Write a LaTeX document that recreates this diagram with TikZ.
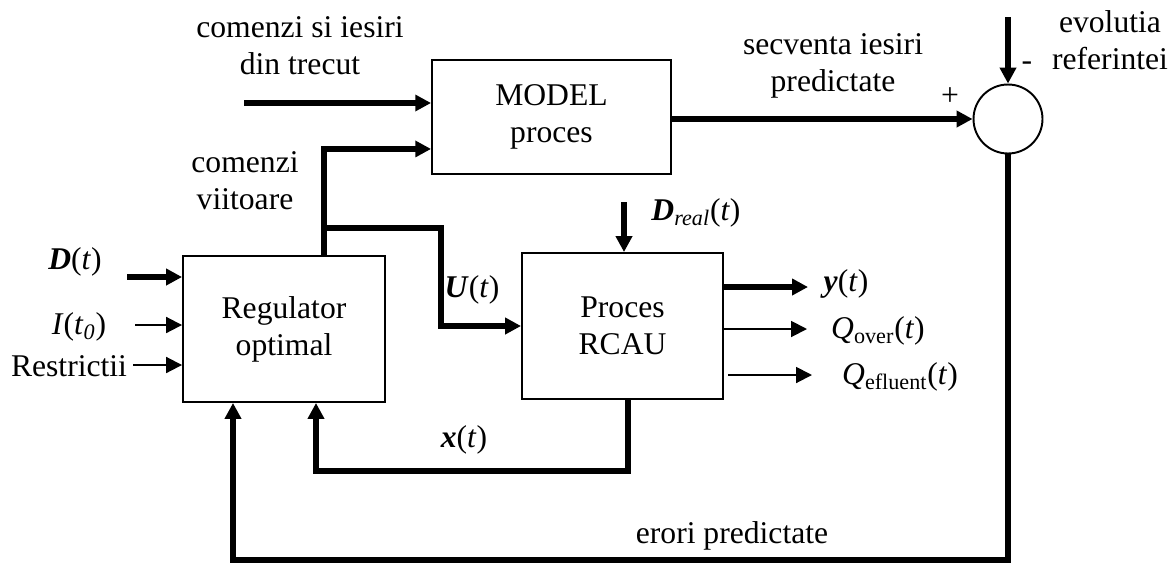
\documentclass[tikz,border=0pt]{standalone}
\usepackage{fontspec}
\setmainfont{Liberation Serif}
\usepackage{tikz}
\usetikzlibrary{positioning, shapes, arrows.meta}

\begin{document}
\begin{tikzpicture}[x=0.02cm, y=-0.02cm,
    every node/.style={font=\fontsize{18}{21}\selectfont},
    blk/.style={draw, line width=1.1pt, rectangle, align=center, inner sep=0pt},
    thk/.style={line width=3.4pt, -{Triangle[length=9pt,width=9pt]}},
    thn/.style={line width=1.1pt, -{Triangle[length=9pt,width=9pt]}},
    bare/.style={line width=3.4pt}]
    \useasboundingbox (0,0) rectangle (1173,562);

    \node[blk, minimum width=4.78cm, minimum height=2.28cm] (model) at (551.5,117) {MODEL\\proces};
    \node[blk, minimum width=4.04cm, minimum height=2.92cm] (reg) at (284,329) {Regulator\\optimal};
    \node[blk, minimum width=4.02cm, minimum height=2.92cm] (proc) at (622.5,326) {Proces\\RCAU};
    \node[draw, line width=1.1pt, circle, minimum size=1.38cm, inner sep=0pt] (sum) at (1008,119) {};

    \coordinate (past) at (244,103);
    \coordinate (br) at (324,228);
    \coordinate (uk) at (441,228);
    \coordinate (din) at (127,277);
    \coordinate (iin) at (135,325);
    \coordinate (rin) at (133,365);
    \coordinate (dr) at (624,202);
    \coordinate (yo) at (808,287);
    \coordinate (qo) at (807,329);
    \coordinate (qs) at (728,375);
    \coordinate (qe) at (812,375);
    \coordinate (xr) at (628,471);
    \coordinate (xl) at (316,471);
    \coordinate (fr) at (1008,560);
    \coordinate (fl) at (233,560);
    \coordinate (ev) at (1008,17);

    \draw[thk] (past) -- (past -| model.west);
    \draw[bare] (reg.north -| br) -- (br);
    \draw[thk] (br) |- ([yshift=0.52cm]model.south west);
    \draw[thk] (br) -- (uk) |- (proc.west);
    \draw[thk] (din) -- (din -| reg.west);
    \draw[thn] (iin) -- (iin -| reg.west);
    \draw[thn] (rin) -- (rin -| reg.west);
    \draw[thk] (dr) -- (dr |- proc.north);
    \draw[thk] (yo -| proc.east) -- (yo);
    \draw[thn] (qo -| proc.east) -- (qo);
    \draw[thn] (qs) -- (qe);
    \draw[thk] (proc.south -| xr) -- (xr) -- (xl) -- (xl |- reg.south);
    \draw[thk] (sum.south) -- (fr) -- (fl) -- (fl |- reg.south);
    \draw[thk] (sum.west -| model.east) -- (sum.west);
    \draw[thk] (ev) -- (sum.north);

    \node[align=center] (lpast) at (300,46) {comenzi si iesiri\\din trecut};
    \node[align=center] (lfut) at (245,181) {comenzi\\viitoare};
    \node[align=center] (lseq) at (833,66) {secventa iesiri\\predictate};
    \node[align=center] (lev) at (1110,40) {evolutia\\referintei};
    \node (lplus) at (950,97) {+};
    \node (lminus) at (1027,66) {-};
    \node (ld) at (75,262) {\textbf{\textit{D}}(\textit{t})};
    \node (li) at (79,327) {\textit{I}(\textit{t}\textsubscript{\textit{0}})};
    \node (lr) at (69,366) {Restrictii};
    \node (lu) at (472,290) {\textbf{\textit{U}}(\textit{t})};
    \node (ldr) at (696,213) {\textbf{\textit{D}}\textsubscript{\textit{real}}(\textit{t})};
    \node (ly) at (846,284) {\textbf{\textit{y}}(\textit{t})};
    \node (lqo) at (878,331) {\textit{Q}\textsubscript{over}(\textit{t})};
    \node (lqe) at (900,377) {\textit{Q}\textsubscript{efluent}(\textit{t})};
    \node (lx) at (464,440) {\textbf{\textit{x}}(\textit{t})};
    \node (lerr) at (732,536) {erori predictate};
\end{tikzpicture}
\end{document}
